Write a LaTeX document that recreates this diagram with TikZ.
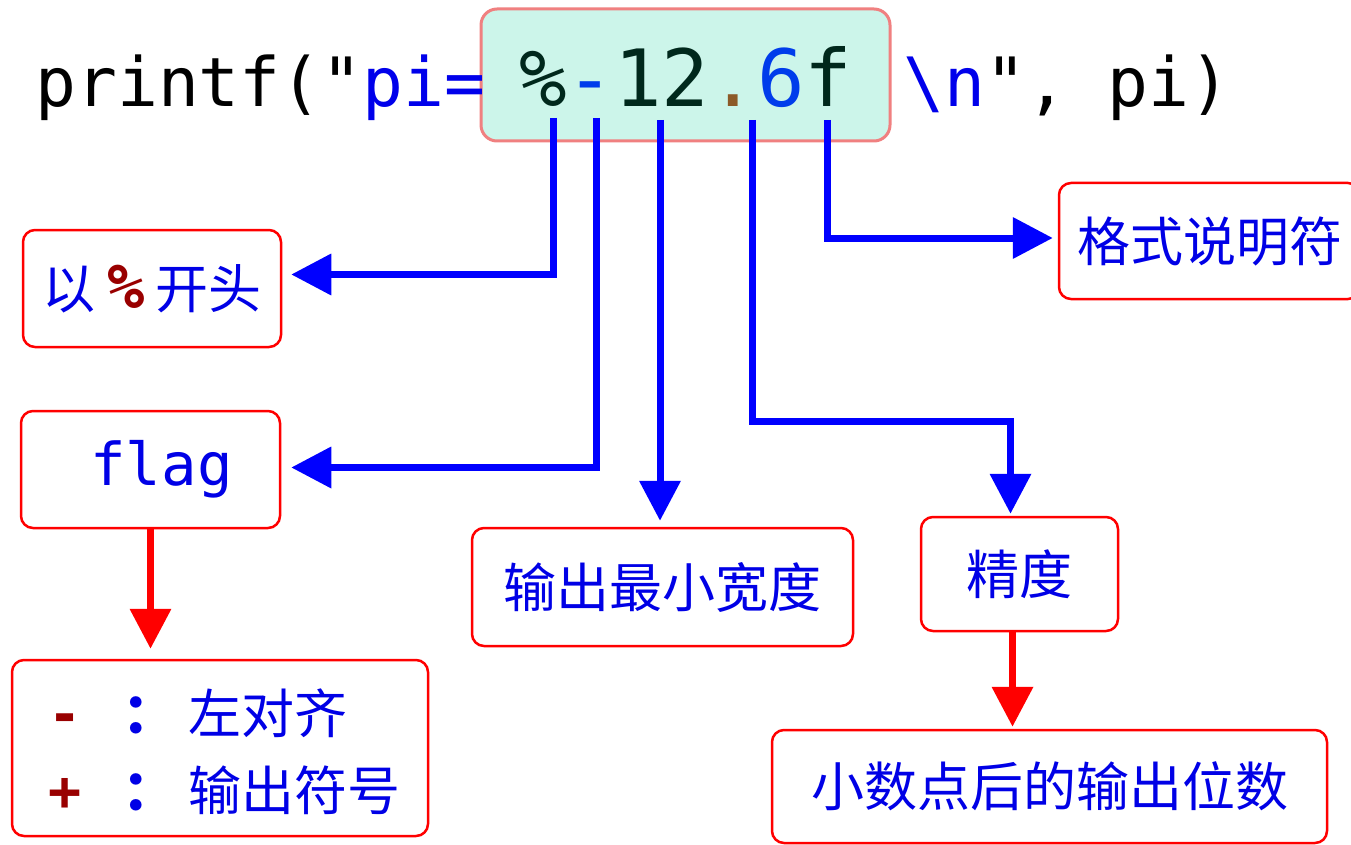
\documentclass[tikz,border=0pt]{standalone}
\usepackage{fontspec}
\setmainfont{Noto Sans CJK SC}
\newfontfamily\cjk{Noto Sans CJK SC}
\newfontfamily\mono{DejaVu Sans Mono}
\usetikzlibrary{arrows.meta}
\definecolor{codeblue}{RGB}{0,0,235}
\definecolor{darkgrn}{RGB}{0,40,28}
\definecolor{dotbrown}{RGB}{140,90,40}
\definecolor{sixblue}{RGB}{0,60,235}
\definecolor{boxfill}{RGB}{204,245,234}
\definecolor{boxedge}{RGB}{240,128,128}
\definecolor{dred}{RGB}{153,0,0}
\definecolor{txtblue}{RGB}{0,0,230}
\tikzset{
  lbl/.style={draw=red, line width=2.5pt, rounded corners=12pt, inner sep=0pt,
              text=txtblue, font=\cjk\fontsize{53}{60}\selectfont},
  codebox/.style={draw=boxedge, fill=boxfill, line width=3pt, rounded corners=16pt, inner sep=0pt},
  barrow/.style={draw={rgb,255:red,0;green,0;blue,255}, line width=7pt,
                 -{Triangle[length=40pt,width=40pt]}},
  rarrow/.style={draw=red, line width=7pt, -{Triangle[length=40pt,width=40pt]}},
  codetxt/.style={anchor=base west, inner sep=0pt, font=\mono\fontsize{68}{80}\selectfont},
  b6txt/.style={anchor=base, inner sep=0pt, font=\cjk\fontsize{53}{60}\selectfont, text=txtblue},
}
\begin{document}
\begin{tikzpicture}[x=1pt,y=-1pt]
\useasboundingbox (0,0) rectangle (1351,845);
% code line
\node[codebox, minimum width=409pt, minimum height=132pt] (fmt) at (685.5,75) {};
\node[codetxt] (left) at (35,107) {printf("\textcolor{codeblue}{pi=}};
\node[codetxt, font=\mono\fontsize{79}{90}\selectfont] (spec) at (519,107)
  {\textcolor{darkgrn}{\%}\textcolor{sixblue}{-}\textcolor{darkgrn}{12}\textcolor{dotbrown}{.}\textcolor{sixblue}{6}\textcolor{darkgrn}{f}};
\node[codetxt] (right) at (903,107) {\textcolor{codeblue}{\textbackslash n}", pi)};
% connector starts
\coordinate (s1) at (553,118);
\coordinate (s2) at (596,118);
\coordinate (s3) at (660,120);
\coordinate (s4) at (752,120);
\coordinate (s5) at (827,120);
% label boxes
\node[lbl, minimum width=258pt, minimum height=117pt] (b1) at (152,288.5)
  {以\hspace{12pt}{\mono\bfseries\fontsize{62}{66}\selectfont\color{dred}\%}\hspace{10pt}开头};
\node[lbl, minimum width=259pt, minimum height=117pt] (b2) at (150.5,469.5)
  {\hspace*{22pt}{\mono\fontsize{59}{66}\selectfont flag}};
\node[lbl, minimum width=381pt, minimum height=118pt] (b3) at (662.5,587) {输出最小宽度};
\node[lbl, minimum width=197pt, minimum height=114pt] (b4) at (1019.5,574) {精度};
\node[lbl, minimum width=301pt, minimum height=116pt] (b5) at (1209.5,241) {格式说明符};
\node[lbl, minimum width=416pt, minimum height=176pt] (b6) at (220,748) {};
\node[lbl, minimum width=555pt, minimum height=113pt] (b7) at (1049.5,786.5) {小数点后的输出位数};
% text of b6
\node[anchor=base, inner sep=0pt, font=\mono\bfseries\fontsize{55}{60}\selectfont, text=dred] (m1) at (65,733) {-};
\node[anchor=base, inner sep=0pt, font=\mono\bfseries\fontsize{55}{60}\selectfont, text=dred] (p1) at (65,810) {+};
\node[b6txt, font=\cjk\bfseries\fontsize{55}{60}\selectfont] (c1) at (150,733) {：};
\node[b6txt, font=\cjk\bfseries\fontsize{55}{60}\selectfont] (c2) at (150,810) {：};
\node[b6txt, anchor=base west] (l1) at (188,733) {左对齐};
\node[b6txt, anchor=base west] (l2) at (188,810) {输出符号};
% blue connectors
\draw[barrow, shorten >=9pt] (s1) |- ([yshift=14pt]b1.east);
\draw[barrow, shorten >=10pt] (s2) |- ([yshift=2pt]b2.east);
\draw[barrow, shorten >=6pt] (s3) -- (s3 |- b3.north);
\draw[barrow, shorten >=2pt] (s4) -- ++(0,301) -| ([xshift=-9pt]b4.north);
\draw[barrow, shorten >=5pt] (s5) |- ([yshift=3pt]b5.west);
% red connectors
\draw[rarrow, shorten >=10pt] (b2.south) -- (b2.south |- b6.north);
\draw[rarrow, shorten >=2pt] ([xshift=-7pt]b4.south) -- ([xshift=-7pt]b4.south |- b7.north);
\end{tikzpicture}
\end{document}
